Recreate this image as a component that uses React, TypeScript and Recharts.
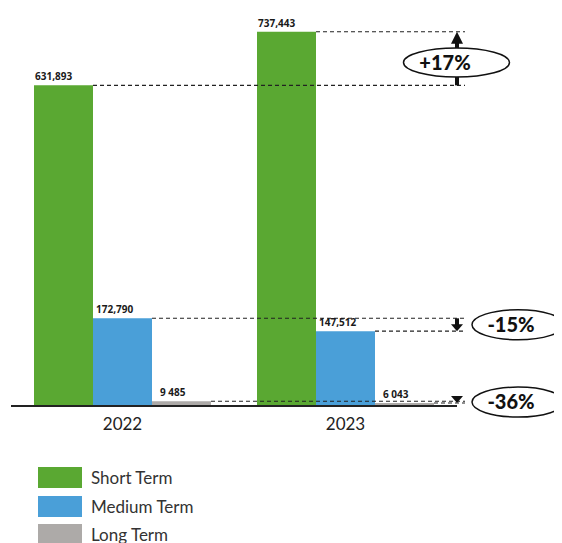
import { BarChart, Bar, XAxis, YAxis } from "recharts";

// values per year
const years = ["2022", "2023"];
const shortTerm = [631893, 737443];
const mediumTerm = [172790, 147512];
const longTerm = [9485, 6043];
const seriesNames = ["Short Term", "Medium Term", "Long Term"];

const data = years.map((year, i) => ({
  year,
  short: shortTerm[i],
  medium: mediumTerm[i],
  long: longTerm[i],
}));

const COLORS = { short: "#5aa832", medium: "#4a9fd8", long: "#adaaa8" };

// annotation geometry (svg coords)
const LINE_END = 457;
const ARROW_X = 449;

type Badge = { cx: number; rx: number; ry: number; textX: number; dy: number };
type SeriesDef = {
  key: "short" | "medium" | "long";
  name: string;
  values: number[];
  labelDx: number;
  arrow: "up" | "down" | "head";
  badge: Badge;
};

const series: SeriesDef[] = [
  {
    key: "short",
    name: seriesNames[0],
    values: shortTerm,
    labelDx: 1,
    arrow: "up",
    badge: { cx: 448.5, rx: 53, ry: 14.5, textX: 437, dy: 4 },
  },
  {
    key: "medium",
    name: seriesNames[1],
    values: mediumTerm,
    labelDx: 3,
    arrow: "down",
    badge: { cx: 510, rx: 46, ry: 15, textX: 503, dy: 0 },
  },
  {
    key: "long",
    name: seriesNames[2],
    values: longTerm,
    labelDx: 8,
    arrow: "head",
    badge: { cx: 510, rx: 46, ry: 15, textX: 503, dy: 0 },
  },
];

function formatValue(v: number) {
  if (v >= 10000) return v.toLocaleString("en-US");
  return v.toLocaleString("en-US").replace(",", " ");
}

function formatChange(from: number, to: number) {
  const pct = Math.round(((to - from) / from) * 100);
  return (pct > 0 ? "+" : "-") + Math.abs(pct) + "%";
}

function getBox(p: any) {
  const vb = p.viewBox || {};
  return {
    x: Number(p.x ?? vb.x),
    y: Number(p.y ?? vb.y),
    width: Number(p.width ?? vb.width),
    height: Number(p.height ?? vb.height),
  };
}

function Arrow({ kind, top, bottom }: { kind: SeriesDef["arrow"]; top: number; bottom: number }) {
  const x = ARROW_X;
  if (kind === "up") {
    return (
      <g fill="#111">
        <rect x={x - 2} y={top + 11} width={4} height={bottom - top - 11} />
        <polygon points={`${x - 6},${top + 12} ${x + 6},${top + 12} ${x},${top}`} />
      </g>
    );
  }
  if (kind === "down") {
    return (
      <g fill="#111">
        <rect x={x - 2} y={top} width={4} height={bottom - top - 6} />
        <polygon points={`${x - 6},${bottom - 7} ${x + 6},${bottom - 7} ${x},${bottom}`} />
      </g>
    );
  }
  return (
    <polygon fill="#111" points={`${x - 6},${bottom - 7} ${x + 6},${bottom - 7} ${x},${bottom}`} />
  );
}

function makeLabel(s: SeriesDef) {
  return (props: any) => {
    const { x, y, width, height } = getBox(props);
    const index: number = props.index ?? 0;
    const value = s.values[index];
    const right = x + width;
    const parts = [
      <line
        key="dash"
        x1={right}
        x2={LINE_END}
        y1={y}
        y2={y}
        stroke="#222"
        strokeWidth={1.1}
        strokeDasharray="4 3"
      />,
      <text
        key="val"
        x={x + s.labelDx}
        y={y - 5}
        fontFamily="'Open Sans', sans-serif"
        fontWeight={700}
        fontSize={10}
        fill="#1a1a1a"
      >
        {formatValue(value)}
      </text>,
    ];
    if (index === 1) {
      const bottom = y + height;
      const prevY = bottom - (s.values[0] * height) / value;
      const top = Math.min(prevY, y);
      const low = Math.max(prevY, y);
      const cy = (top + low) / 2 + s.badge.dy;
      parts.push(
        <g key="badge">
          <Arrow kind={s.arrow} top={top} bottom={low} />
          <ellipse
            cx={s.badge.cx}
            cy={cy}
            rx={s.badge.rx}
            ry={s.badge.ry}
            fill="#fff"
            stroke="#111"
            strokeWidth={1.5}
          />
          <text
            x={s.badge.textX}
            y={cy}
            dy="0.36em"
            textAnchor="middle"
            fontFamily="Lato, sans-serif"
            fontWeight={900}
            fontSize={20}
            fill="#111"
          >
            {formatChange(s.values[0], value)}
          </text>
        </g>
      );
    }
    return <g>{parts}</g>;
  };
}

export default function App() {
  return (
    <div style={{ position: "relative", width: 554, height: 535, background: "#fff" }}>
      <BarChart
        width={554}
        height={430}
        data={data}
        margin={{ top: 22, right: 105, bottom: 2, left: 3 }}
        barCategoryGap={23}
        barGap={0}
        style={{ overflow: "visible" }}
      >
        <XAxis
          dataKey="year"
          height={30}
          tickLine={false}
          tickMargin={6}
          axisLine={{ stroke: "#222", strokeWidth: 2 }}
          tick={{ fontSize: 17, fill: "#222", fontFamily: "Lato, sans-serif" }}
        />
        <YAxis hide domain={[0, 741000]} />
        {series.map((s) => (
          <Bar
            key={s.key}
            dataKey={s.key}
            name={s.name}
            fill={COLORS[s.key]}
            isAnimationActive={false}
            label={makeLabel(s)}
          />
        ))}
      </BarChart>
      <div style={{ position: "absolute", left: 30, top: 455.5 }}>
        {series.map((s) => (
          <div key={s.key} style={{ display: "flex", alignItems: "center", height: 28.5 }}>
            <div style={{ width: 44, height: 21, background: COLORS[s.key], marginRight: 9 }} />
            <span style={{ fontFamily: "Lato, sans-serif", fontSize: 17, color: "#333" }}>
              {s.name}
            </span>
          </div>
        ))}
      </div>
    </div>
  );
}
